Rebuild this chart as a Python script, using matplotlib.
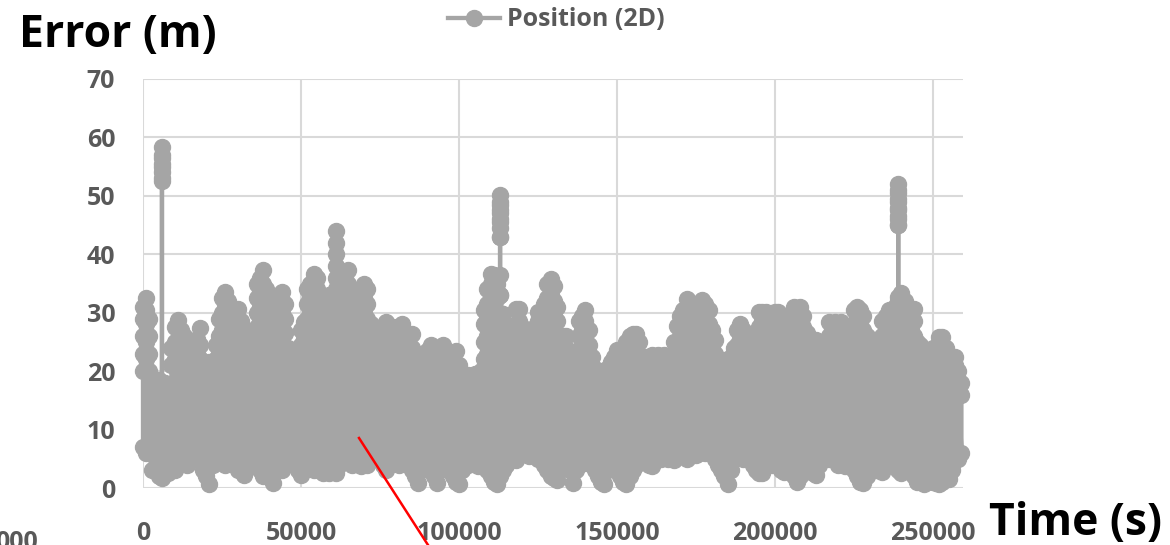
import matplotlib
matplotlib.use("Agg")
import matplotlib.pyplot as plt
from matplotlib.lines import Line2D
import numpy as np

plt.rcParams['font.family'] = ['Open Sans', 'DejaVu Sans']
plt.rcParams['font.weight'] = 'bold'

# Horizontal position error samples, grouped per 1000 s epoch (m)
error_samples = [
    # 0 - 9 ks
    (7, 20, 23, 26, 29, 31), (6, 22, 25, 28, 30.5, 32.5), (8, 20, 23, 26, 29), (3, 18), (5, 17.5),
    (2, 18.5), (1.7, 16, 52.5, 54, 55.5, 57, 58.4, 56.5, 55, 53, 17), (4, 18), (2.5, 17), (5, 21, 24),
    # 10 - 19 ks
    (3, 22, 25, 27.5), (4, 23, 25.5, 28.7), (6, 22, 24.5, 27), (5, 24, 26), (4, 23),
    (6, 21, 24), (5, 22, 25), (7, 23, 25.5), (6, 22, 24.5, 27.3), (3, 21),
    # 20 - 29 ks
    (2, 20), (0.6, 21.5), (4, 20), (5, 22, 24.5), (6, 23, 26, 29),
    (5, 24, 27, 30, 32.5), (4, 23, 26, 29, 31.5, 33.6), (6, 24, 27, 30, 32), (5, 24, 27, 29.5), (4, 25, 28, 30.5),
    # 30 - 39 ks
    (3, 24, 27, 30.7), (4, 23, 26, 28.5), (2.2, 22), (5, 23, 25.8), (4, 22, 25),
    (6, 24, 27), (4, 25, 27.5, 30, 32.5, 35), (3, 26, 28.5, 31, 33.5, 36), (2, 25, 27.5, 30, 32.5, 35, 37.3), (4, 24, 26.5, 29, 31.5, 34),
    # 40 - 49 ks
    (3, 23, 25), (0.9, 22, 24.7), (5, 24, 26.5, 29, 31.5), (4, 25, 27.5, 30, 32.5), (3, 25, 27.5, 30, 32, 33.6),
    (5, 24, 26.5, 29, 31.5), (6, 22, 24), (5, 21, 23.5), (4, 22), (3, 21, 23),
    # 50 - 59 ks
    (2.2, 22, 24.5, 27), (4, 23, 25.5, 28.4), (5, 24, 26.5, 29, 31.5, 34), (4, 25, 27.5, 30, 32.5, 35), (3, 25, 27.5, 30, 32.5, 35, 36.7),
    (4, 24, 26.5, 29, 31.5, 34, 36), (5, 23, 25.5, 28, 30.5), (2.6, 24, 26.5, 29, 31.5), (3, 23, 25.5, 28, 30), (2.6, 24, 26.5, 29, 31.5, 33),
    # 60 - 69 ks
    (3, 25, 27.5, 30, 32.5), (2.6, 24, 26.5, 29, 31.5, 34, 36, 38, 40, 42, 44), (4, 26, 28.5, 31, 33.5, 36), (5, 25, 27.5, 30, 32.5, 35), (6, 26, 28.5, 31, 33.5, 36),
    (5, 25, 27.5, 30, 32.5, 35, 37.3), (4, 24, 26.5, 29, 31.5, 34), (5, 23, 25.5, 28), (6, 22, 24.5), (3.7, 24, 26.5, 29, 31.5, 34),
    # 70 - 79 ks
    (5, 25, 27.5, 30, 32.5, 35), (4, 24, 26.5, 29, 31.5, 34), (6, 23, 25.5, 28), (5, 22, 24.5, 27), (6, 23, 25.5),
    (5, 22, 24.5, 27), (4, 23, 25.5, 27.5), (3.1, 24, 26.5, 28.4), (5, 22, 24.5), (6, 23, 25.5, 27.6),
    # 80 - 89 ks
    (5, 24, 26.5), (4, 23, 25.5, 27.5), (5, 24, 26.5, 28.1), (6, 22, 24.5), (4, 23, 25),
    (3, 24, 26.4), (2, 21, 23), (0.9, 20, 22.4), (3, 21), (5, 20, 22),
    # 90 - 99 ks
    (4, 21, 23.5), (3, 22, 24.4), (2, 21, 23), (0.9, 20, 22.4), (3, 21, 23.5),
    (4, 22, 24.4), (5, 20, 22), (4, 19, 21), (2, 20, 22.5), (1, 21, 23.5),
    # 100 - 109 ks
    (0.6, 19, 21), (3, 18, 19.3), (5, 17, 19), (4, 18, 19.3), (6, 17, 18.5),
    (5, 18, 19.5), (3.7, 17, 19), (5, 18, 20), (4, 19, 22, 25, 28, 30.5), (3, 20, 23, 26, 29, 31.5, 34),
    # 110 - 119 ks
    (2, 21, 24, 27, 30, 32.5, 35, 36.7), (1, 20, 23, 26, 29, 31.5, 34, 36.5), (0.6, 21, 24, 27, 30, 32.5, 35),
    (2, 22, 25, 28, 30, 33, 36.5, 43, 44.5, 46, 47.5, 49, 50.2, 48.5, 47, 45.5, 43, 33),
    (3, 20, 23, 26, 29.8), (4, 21, 24, 27.5), (5, 20, 23, 26), (6, 21, 24, 27), (4.8, 22, 25, 28, 30.7), (6, 23, 26, 28.5, 30.7),
    # 120 - 129 ks
    (7, 22, 25, 27.5), (6, 21, 24, 26), (5.4, 20, 23, 25.5), (7, 21, 24, 26.5), (6, 22, 25, 27.5),
    (5, 23, 26, 28.5, 30.1), (6, 22, 25, 28, 30.1), (4, 21, 24, 26.5, 29, 31.5), (3, 22, 25, 27.5, 30, 32.5, 35), (2, 23, 25.5, 28, 30.5, 33, 35.8),
    # 130 - 139 ks
    (1.7, 22, 24.5, 27, 29.5, 32, 34.5), (1.4, 21, 23.5, 26, 28.5, 31), (3, 20, 23, 25.5), (4, 21, 23.5, 26.1), (5, 22, 24, 26.1),
    (3, 20, 22.5), (0.9, 19, 21), (3, 20, 22.5), (5, 21, 23.5, 26, 28.5), (4.3, 22, 24.5, 27, 29.5),
    # 140 - 149 ks
    (4.3, 21, 23.5, 26, 28.5, 30.4), (6, 22, 24.5, 27), (5, 20, 22.5), (3, 18, 20.4), (2, 17, 19.5),
    (1, 18, 20), (0.6, 17, 19), (3, 18, 20.5), (5, 19, 21.5), (4, 20, 22.5),
    # 150 - 159 ks
    (3, 21, 23.6), (2, 20, 22.5), (1, 19, 21.5), (0.6, 20, 22.5, 25), (2, 21, 23.5, 26),
    (3, 22, 24.5, 26.4), (4, 21, 23.5, 26.4), (5, 20, 22.5, 25), (6, 19, 21.5), (5, 20, 22.5),
    # 160 - 169 ks
    (4, 19, 21), (3.7, 20, 22.7), (5, 21, 22.5), (6, 20, 22.7), (5, 19, 21.5),
    (6, 20, 22.7), (5, 18, 20), (6, 17, 19.5), (4.8, 20, 22.5, 25), (6, 22, 24.5, 27.8),
    # 170 - 179 ks
    (7, 21, 24, 27, 29.5), (6, 22, 25, 28, 30.5), (5, 23, 26, 29, 32.4), (6, 22, 25, 28, 30.5), (7, 21, 24, 26.5),
    (5.7, 22, 25, 28), (6, 23, 26, 29, 31), (7, 24, 27, 30, 32.1), (6, 23, 26, 29, 31.5), (7, 22, 25, 28, 30.5),
    # 180 - 189 ks
    (6, 21, 24, 27), (5, 20, 23, 25.3), (4, 19, 21.5), (3, 18, 21), (2, 19, 21.9),
    (0.6, 18, 21), (3, 20, 22.5), (5, 21, 24), (5.7, 22, 24.5, 27), (6, 23, 25.5, 28.1),
    # 190 - 199 ks
    (5, 22, 24.5, 27), (6, 21, 23.5, 25.8), (5, 20, 22.5, 25), (4, 21, 23.5, 25.8), (3, 20, 23, 26),
    (2.6, 22, 25, 27.5, 30.1), (2.6, 23, 26, 28.5, 30.1), (4, 22, 25, 28, 30.1), (5, 23, 26, 28.5), (4, 22, 25, 27.5, 30),
    # 200 - 209 ks
    (5, 23, 26, 28.5, 30.1), (4, 22, 25, 27.5, 30.1), (3, 21, 24, 27), (2.8, 22, 25, 28), (4, 21, 24, 27),
    (3, 22, 25, 27.5, 29.5), (2, 23, 26, 28.5, 31), (1.1, 22, 25, 28, 30.5), (2, 23, 26, 28.5, 31), (3, 22, 25, 27.5, 29.5),
    # 210 - 219 ks
    (4, 21, 24, 26.5), (3, 20, 23, 25.5), (2.5, 21, 23.5, 25.3), (2.2, 20, 22.5, 25.3), (4, 19, 21.5),
    (5, 18, 20), (6, 20, 22.5, 25), (5, 21, 23.5, 26, 28.4), (6, 22, 24.5, 27), (5, 21, 23.5, 26, 28.4),
    # 220 - 229 ks
    (4, 22, 24.5, 27), (5, 21, 23.5, 26, 28.4), (3.7, 20, 22.5, 25), (5, 19, 21.5), (4, 21, 24, 27),
    (3, 22, 25, 28, 30.5), (2, 23, 26, 29, 31), (1, 22, 25, 28, 30.5), (0.9, 21, 24, 27, 29.5), (2, 20, 23, 26),
    # 230 - 239 ks
    (3, 19, 21.5), (4, 18, 21), (3, 19, 22), (4, 20, 22.5, 24.4), (2.8, 21, 23.5, 26, 28.5),
    (4, 22, 24.5, 27, 29.5), (5, 21, 23.5, 26, 28.5, 30.4), (6, 22, 24.5, 27, 29.5, 30.4), (4, 21, 23.5, 26, 28.5, 31),
    (3, 22, 25, 28, 30.5, 32.7, 45, 46.5, 48, 49.5, 51, 52, 50.5, 49, 47.5, 46, 45, 32),
    # 240 - 249 ks
    (2.6, 23, 25.5, 28, 30.5, 33.3), (3, 22, 24.5, 27, 29.5, 32), (4, 21, 23.5, 26, 28.5, 30.5), (3, 22, 24.5, 27, 29.5, 30.7), (2, 21, 23.5, 26, 28.5, 30.7),
    (1, 20, 22.5, 25), (2, 19, 22, 24.5), (0.6, 20, 22.5), (1, 19, 21.5, 23), (2, 20, 22.5),
    # 250 - 259 ks
    (1, 19, 21.5, 24), (0.8, 20, 22.5, 24), (0.6, 21, 23.5, 25.8), (1, 20, 22.5, 25.8), (2, 19, 21.5, 24),
    (1.5, 18, 20.5, 22.4), (3, 19, 22.4), (4.8, 18, 21, 22.4), (5, 17, 20), (6, 16, 18),
]
epoch_step_s = 1000

series_label = 'Position (2D)'
x_ticks = [0, 50000, 100000, 150000, 200000, 250000]
y_ticks = [0, 10, 20, 30, 40, 50, 60, 70]
x_title = 'Time (s)'
y_title = 'Error (m)'

# flatten the per-epoch groups into one continuous trace
times = []
errors = []
for i, grp in enumerate(error_samples):
    for v in grp:
        times.append(i * epoch_step_s)
        errors.append(v)

W, H = 1170, 545
fig = plt.figure(figsize=(W / 100, H / 100), dpi=100)
ax = fig.add_axes([143 / W, 1 - 488 / H, (963 - 143) / W, (488 - 79) / H])

grey = '#A5A5A5'
line, = ax.plot(times, errors, color=grey, lw=3.1, marker='o', ms=11.5,
                mec=grey, mfc=grey, clip_on=False, zorder=3,
                solid_joinstyle='round', label=series_label)

ax.set_xlim(0, 259500)
ax.set_ylim(0, 70)
ax.set_xticks(x_ticks)
ax.set_yticks(y_ticks)
ax.set_xticklabels([str(v) for v in x_ticks])
ax.set_yticklabels([str(v) for v in y_ticks])
ax.grid(True, color='#D9D9D9', lw=1.5)
ax.set_axisbelow(True)
for s in ax.spines.values():
    s.set_visible(False)
ax.tick_params(axis='both', length=0, labelsize=18, labelcolor='#595959')
ax.tick_params(axis='x', pad=24)
ax.tick_params(axis='y', pad=20)

fig.text(19 / W, 1 - 47 / H, y_title, fontsize=32, fontweight='bold',
         color='black', ha='left', va='baseline')
fig.text(989 / W, 1 - 535 / H, x_title, fontsize=32, fontweight='bold',
         color='black', ha='left', va='baseline')

fig.legend(handles=[line], labels=[series_label], loc='center',
           bbox_to_anchor=(556 / W, 1 - 20 / H), frameon=False,
           fontsize=18, labelcolor='#595959', handlelength=2.1,
           handletextpad=0.25, borderpad=0)

# red pointer line
fig.add_artist(Line2D([359 / W, 428 / W], [1 - 438 / H, 0], color='red', lw=1.8))

# clipped label of the neighbouring panel along the lower edge
fig.text(38 / W, 1 - 530 / H, '000', fontsize=18, fontweight='bold',
         color='#595959', ha='right', va='top')

fig.savefig('out.png', dpi=100)
